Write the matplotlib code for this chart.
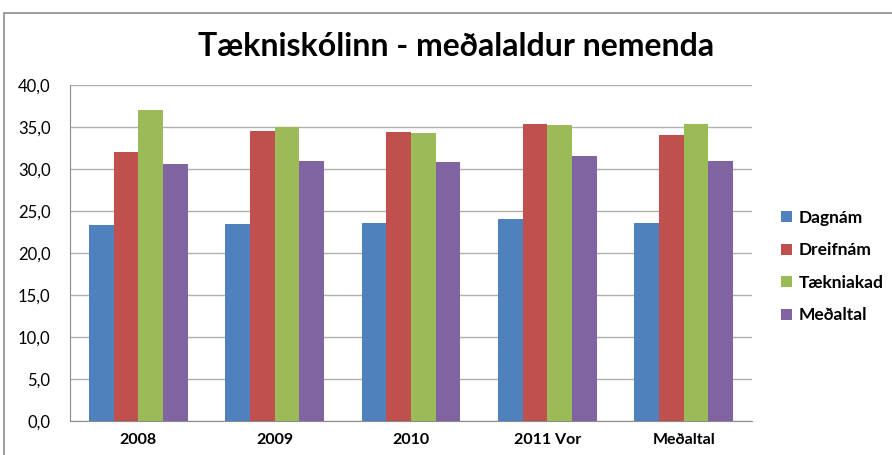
import numpy as np
import matplotlib.pyplot as plt
from matplotlib.patches import Rectangle

categories = ['2008', '2009', '2010', '2011 Vor', 'Meðaltal']
series_names = ['Dagnám', 'Dreifnám', 'Tækniakad', 'Meðaltal']
dagnam = [23.3, 23.5, 23.6, 24.1, 23.6]
dreifnam = [32.0, 34.5, 34.4, 35.3, 34.0]
taekniakad = [37.0, 35.0, 34.3, 35.2, 35.4]
medaltal = [30.6, 31.0, 30.8, 31.5, 31.0]
yticks = np.arange(0, 45, 5)

colors = ['#4F81BD', '#C0504D', '#9BBB59', '#8064A2']
families = ['Lato', 'DejaVu Sans']

fig = plt.figure(figsize=(8.92, 4.55), dpi=100)
fig.patch.set_facecolor('white')

# outer chart frame (runs off the right/bottom edges like the screenshot)
fig.patches.append(Rectangle((4 / 892, -0.1), 1.2, 1 - 13 / 455 + 0.1,
                             transform=fig.transFigure, fill=False,
                             edgecolor='#8c8c8c', linewidth=1.2))

ax = fig.add_axes([70 / 892, 1 - 421 / 455, (752 - 70) / 892, (421 - 85) / 455])

x = np.arange(len(categories))
w = 0.181
for i, (vals, name) in enumerate(zip([dagnam, dreifnam, taekniakad, medaltal], series_names)):
    ax.bar(x + (i - 1.5) * w, vals, width=w, color=colors[i], label=name, zorder=3)

ax.set_xlim(-0.5, len(categories) - 0.5)
ax.set_ylim(0, 40)
ax.set_yticks(yticks)
ax.set_yticklabels([f'{v:.1f}'.replace('.', ',') for v in yticks],
                   fontsize=12, family=families)
ax.set_xticks(x)
ax.set_xticklabels(categories, fontsize=11.5, fontweight='bold', family=families)
ax.tick_params(axis='y', length=0, pad=14)
ax.tick_params(axis='x', length=0, pad=9)
ax.grid(axis='y', color='#b0b0b0', linewidth=1, zorder=0)
for s in ['top', 'right']:
    ax.spines[s].set_visible(False)
ax.spines['left'].set_color('#8c8c8c')
ax.spines['bottom'].set_color('#8c8c8c')

fig.text(456 / 892, 1 - 46 / 455, 'Tækniskólinn - meðalaldur nemenda',
         ha='center', va='center', fontsize=23, fontweight='bold', family=families)

leg = ax.legend(loc='center left', bbox_to_anchor=(1.02, 0.46), frameon=False,
                prop={'family': families, 'weight': 'bold', 'size': 12.5},
                handlelength=0.6, handleheight=0.6, handletextpad=0.4,
                labelspacing=0.95)

fig.savefig('out.png', dpi=100)
